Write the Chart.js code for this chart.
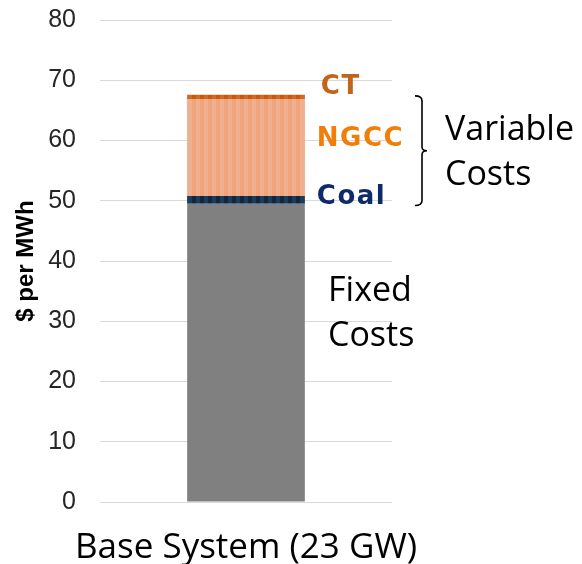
<!DOCTYPE html>
<html>
<head>
<meta charset="utf-8">
<script src="https://cdn.jsdelivr.net/npm/chart.js@4.4.1/dist/chart.umd.min.js"></script>
<style>
    html, body { margin: 0; padding: 0; background: #fff; }
    #wrap { width: 582px; height: 564px; }
</style>
</head>
<body>
<div id="wrap"><canvas id="cost-chart" width="582" height="564"></canvas></div>
<script>
var categories = ['Base System (23 GW)'];
var fixedCosts = [49.5];
var coalCosts = [1.3];
var ngccCosts = [16.1];
var ctCosts = [0.7];
var yTicks = [0, 10, 20, 30, 40, 50, 60, 70, 80];

// vertical stripes, like the texture fill of the original
function stripes(a, b) {
    let c = document.createElement('canvas');
    c.width = 8; c.height = 1;
    let g = c.getContext('2d');
    g.fillStyle = a; g.fillRect(0, 0, 4, 1);
    g.fillStyle = b; g.fillRect(4, 0, 4, 1);
    return g.createPattern(c, 'repeat');
}

var notes = {
    id: 'notes',
    afterDatasetsDraw(chart) {
        let ctx = chart.ctx;
        let y = chart.scales.y;
        let bar = chart.getDatasetMeta(0).data[0];
        let x0 = bar.x + bar.width / 2 + 12;
        ctx.save();
        ctx.textBaseline = 'middle';
        ctx.textAlign = 'left';
        ctx.letterSpacing = '1.5px';
        ctx.font = 'bold 26px "DejaVu Sans"';
        ctx.fillStyle = '#c0661c';
        ctx.fillText('CT', x0 + 4, y.getPixelForValue(68.9));
        ctx.fillStyle = '#f07f0a';
        ctx.fillText('NGCC', x0, y.getPixelForValue(60.2));
        ctx.fillStyle = '#0e2a6b';
        ctx.fillText('Coal', x0, y.getPixelForValue(50.6));
        ctx.letterSpacing = '0px';

        // brace
        let bx = 422, top = y.getPixelForValue(67.4), bot = y.getPixelForValue(49.2);
        let mid = (top + bot) / 2;
        ctx.strokeStyle = '#000';
        ctx.lineWidth = 1.6;
        ctx.beginPath();
        ctx.moveTo(415, top);
        ctx.quadraticCurveTo(bx, top, bx, top + 5);
        ctx.lineTo(bx, mid - 4);
        ctx.quadraticCurveTo(bx, mid, bx + 5, mid);
        ctx.quadraticCurveTo(bx, mid, bx, mid + 4);
        ctx.lineTo(bx, bot - 5);
        ctx.quadraticCurveTo(bx, bot, 415, bot);
        ctx.stroke();

        ctx.fillStyle = '#000';
        ctx.font = '34px "Open Sans"';
        ctx.fillText('Variable', 445, y.getPixelForValue(61.7));
        ctx.fillText('Costs', 445, y.getPixelForValue(54.2));
        ctx.fillText('Fixed', 328, y.getPixelForValue(35));
        ctx.fillText('Costs', 328, y.getPixelForValue(27.5));
        ctx.restore();
    }
};

var ctx = document.getElementById('cost-chart').getContext('2d');
new Chart(ctx, {
    type: 'bar',
    data: {
        labels: categories,
        datasets: [
            { label: 'Fixed', data: fixedCosts, backgroundColor: '#808080' },
            { label: 'Coal', data: coalCosts, backgroundColor: stripes('#0e2841', '#1d3a5c') },
            { label: 'NGCC', data: ngccCosts, backgroundColor: stripes('#f1a37b', '#eeb08e') },
            { label: 'CT', data: ctCosts, backgroundColor: stripes('#c55a11', '#d06a22') }
        ]
    },
    options: {
        responsive: false,
        animation: false,
        devicePixelRatio: 1,
        layout: { padding: { top: 6, right: 190, left: 6, bottom: 0 } },
        plugins: {
            legend: { display: false },
            tooltip: { enabled: false }
        },
        datasets: {
            bar: { categoryPercentage: 1, barPercentage: 0.403, borderWidth: 0 }
        },
        scales: {
            x: {
                stacked: true,
                grid: { display: false },
                border: { display: false },
                ticks: {
                    color: '#000',
                    padding: 17,
                    font: { family: 'Open Sans', size: 35 }
                },
                afterFit: (s) => { s.height = 62; }
            },
            y: {
                stacked: true,
                min: 0,
                max: 80,
                afterBuildTicks: (s) => { s.ticks = yTicks.map(v => ({ value: v })); },
                grid: { color: '#d9d9d9', lineWidth: 1, drawTicks: true, tickLength: 19, tickColor: 'rgba(0,0,0,0)' },
                border: { display: false },
                ticks: {
                    color: '#262626',
                    padding: 5,
                    font: { family: 'Liberation Sans', size: 25 }
                },
                title: {
                    display: true,
                    text: '$ per MWh',
                    color: '#000',
                    padding: { top: 6, bottom: 0 },
                    font: { family: 'Liberation Sans', size: 24, weight: 'bold' }
                },
                afterFit: (s) => { s.width = 94; }
            }
        }
    },
    plugins: [notes]
});
</script>
</body>
</html>
